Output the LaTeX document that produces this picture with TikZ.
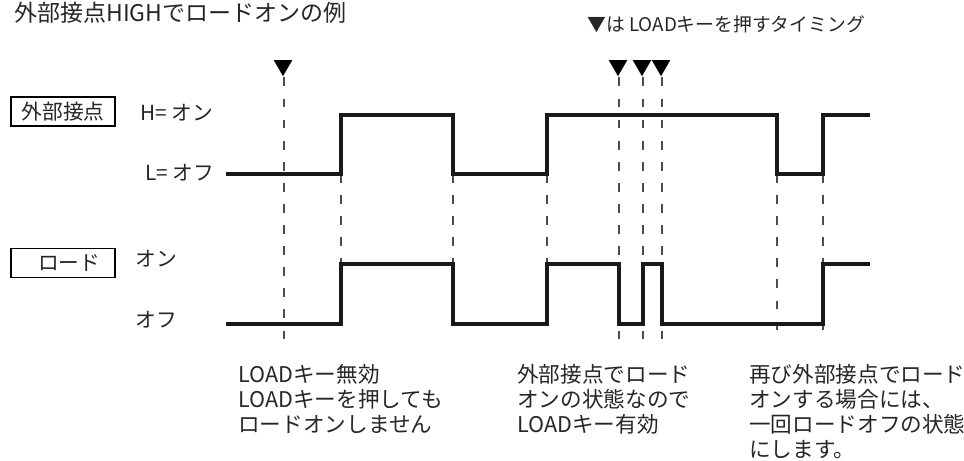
\documentclass[tikz,border=0pt]{standalone}
\usepackage{fontspec}
\setmainfont{Noto Sans CJK JP}
\usepackage{tikz}

\tikzset{
  wave/.style={line width=2.3pt, black!90, line join=miter},
  guide/.style={dashed, dash pattern=on 5pt off 7pt, line width=0.85pt, black!70},
  tagbox/.style={draw, line width=0.8pt, minimum width=2.08cm, minimum height=0.58cm, inner sep=0pt, text=black!85, font=\fontsize{11.8}{14}\selectfont},
  lbl/.style={anchor=west, inner sep=0pt, text=black!85, font=\fontsize{11.8}{14}\selectfont},
  marker/.style={inner sep=0pt, font=\fontsize{11.4}{14}\selectfont},
  note/.style={anchor=north west, align=left, inner sep=0pt, text=black!85, font=\fontsize{12.3}{14.2}\selectfont}
}

\begin{document}
\begin{tikzpicture}
    \useasboundingbox (0,0) rectangle (19.28,9.22);

    % --- Headings ---
    \node[anchor=west, inner sep=0pt, text=black!85, font=\fontsize{13.1}{15}\selectfont] (title) at (0.28,8.96) {外部接点HIGHでロードオンの例};
    \node[anchor=west, inner sep=0pt, text=black!85, font=\fontsize{10.7}{12}\selectfont] (legend) at (11.74,8.74) {▼は LOADキーを押すタイミング};

    % --- Signal names ---
    \node[tagbox] (ext) at (1.26,6.99) {外部接点};
    \node[lbl] (exthi) at (2.80,6.96) {H= オン};
    \node[lbl] (extlo) at (2.90,5.76) {L= オフ};
    \node[tagbox] (load) at (1.26,3.96) {\hspace{0.6em}ロード};
    \node[lbl] (loadon) at (2.70,4.04) {オン};
    \node[lbl] (loadoff) at (2.70,2.82) {オフ};

    % --- Key presses ---
    \foreach \x [count=\i] in {5.68,12.38,12.86,13.24} {
        \node[marker] (m\i) at (\x,7.84) {▼};
        \coordinate (e\i) at (\x,2.28);
        \draw[guide] (m\i.south) -- (e\i);
    }

    % --- Edges of the external contact ---
    \foreach \x [count=\i] in {6.82,9.06,10.94} {
        \coordinate (t\i) at (\x,5.74);
        \coordinate (b\i) at (\x,3.94);
        \draw[guide] (t\i) -- (b\i);
    }
    \foreach \x [count=\i] in {15.54,16.46} {
        \coordinate (r\i) at (\x,5.74);
        \coordinate (s\i) at (\x,2.42);
        \draw[guide] (r\i) -- (s\i);
    }

    % --- Waveforms ---
    \draw[wave] (4.52,5.74) -- (6.82,5.74) -- (6.82,6.92) -- (9.06,6.92) -- (9.06,5.74) -- (10.94,5.74)
        -- (10.94,6.92) -- (15.54,6.92) -- (15.54,5.74) -- (16.46,5.74) -- (16.46,6.92) -- (17.40,6.92);
    \draw[wave] (4.52,2.74) -- (6.82,2.74) -- (6.82,3.94) -- (9.06,3.94) -- (9.06,2.74) -- (10.94,2.74)
        -- (10.94,3.94) -- (12.38,3.94) -- (12.38,2.74) -- (12.86,2.74) -- (12.86,3.94) -- (13.24,3.94)
        -- (13.24,2.74) -- (16.46,2.74) -- (16.46,3.94) -- (17.40,3.94);

    % --- Notes ---
    \node[note] (n1) at (4.76,1.94) {LOADキー無効\\LOADキーを押しても\\ロードオンしません};
    \node[note] (n2) at (10.34,1.94) {外部接点でロード\\オンの状態なので\\LOADキー有効};
    \node[note] (n3) at (14.98,1.94) {再び外部接点でロード\\オンする場合には、\\一回ロードオフの状態\\にします。};
\end{tikzpicture}
\end{document}
